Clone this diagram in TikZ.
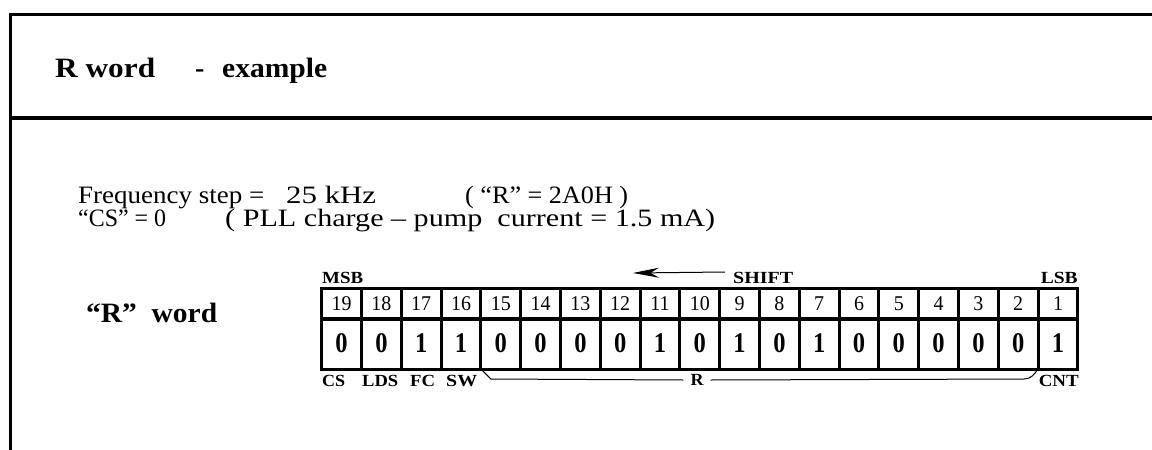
\documentclass[tikz,border=0pt]{standalone}
\usepackage{fontspec}
\setmainfont{Liberation Serif}
\usetikzlibrary{arrows.meta,calc}
% set a text to a given width, keeping its height
\newcommand{\fitw}[2]{\resizebox{#1}{\height}{#2}}

\begin{document}
\begin{tikzpicture}[x=1pt,y=-1pt,
  bitnum/.style={draw, line width=3pt, minimum width=39.8pt, minimum height=31pt,
    inner sep=0pt, outer sep=0pt, font=\fontsize{21}{21}\selectfont},
  bitval/.style={draw, line width=3pt, minimum width=39.8pt, minimum height=51pt,
    inner sep=0pt, outer sep=0pt, font=\fontsize{28.5}{28.5}\selectfont\bfseries},
  lbl/.style={inner sep=0pt, font=\fontsize{17}{17}\selectfont\bfseries},
  body/.style={inner sep=0pt, anchor=base west, font=\fontsize{25}{25}\selectfont},
  head/.style={inner sep=0pt, anchor=base west, font=\fontsize{28}{28}\selectfont\bfseries},
  thinline/.style={line width=1pt},
]
\useasboundingbox (0,0) rectangle (1152,450);
\clip (0,0) rectangle (1152,450);

% frame of the section
\draw[line width=3pt] (1160,14) -- (10,14) -- (10,460);
\draw[line width=4pt] (10,118) -- (1160,118);

% heading
\node[head] (h1) at (55,77) {\fitw{100pt}{R word}};
\node[head] (h2) at (195,77) {-};
\node[head] (h3) at (222,77) {\fitw{105pt}{example}};

% description
\node[body] (f1) at (78,203) {\fitw{186pt}{Frequency step =}};
\node[body] (f2) at (286,203) {\fitw{90pt}{25 kHz}};
\node[body] (f3) at (465,203) {\fitw{163pt}{( “R” = 2A0H )}};
\node[body] (c1) at (78,226) {\fitw{88pt}{“CS” = 0}};
\node[body] (c2) at (225,226) {\fitw{490pt}{( PLL charge – pump\ \ current = 1.5 mA)}};

\node[head] (rw) at (86,322) {\fitw{131pt}{“R”\ \ word}};

% register bits 19 .. 1
\foreach \v [count=\c from 0] in {0,0,1,1,0,0,0,0,1,0,1,0,1,0,0,0,0,0,1} {
  \pgfmathtruncatemacro\bit{19-\c}
  \node[bitnum] (n\bit) at ({321.7+39.8*(\c+0.5)},303.5) {\scalebox{0.95}[1]{\bit}};
  \node[bitval] (b\bit) at ({321.7+39.8*(\c+0.5)},343.5) {\scalebox{0.86}[1]{\v}};
}

% labels above
\node[lbl, anchor=base west] (msb) at (322,283) {\fitw{41pt}{MSB}};
\node[lbl, anchor=base east] (lsb) at (1078,283) {\fitw{37pt}{LSB}};
\node[lbl, anchor=base west] (shift) at (733,283) {\fitw{60pt}{SHIFT}};
\coordinate (sa) at (725,272);
\coordinate (sb) at (633,273);
\draw[thinline, -{Stealth[length=26pt,width=10pt]}] (sa) -- (sb);

% labels below
\node[lbl, anchor=base west] (cs) at (322,386) {\fitw{23pt}{CS}};
\node[lbl, anchor=base west] (lds) at (362,386) {\fitw{36pt}{LDS}};
\node[lbl, anchor=base west] (fc) at (410,386) {\fitw{25pt}{FC}};
\node[lbl, anchor=base west] (sw) at (446,386) {\fitw{31pt}{SW}};
\node[lbl, anchor=base east] (cnt) at (1079,386) {\fitw{40pt}{CNT}};
\node[lbl, inner xsep=7pt] (rl) at (697,380) {\fitw{13pt}{R}};

% brace spanning the R field
\draw[thinline] (b15.south west) -- ++(10,10) -- (rl.west);
\draw[thinline] (rl.east) -- ($(b2.south east)+(-14,10)$) to[out=0,in=-125] (b2.south east);
\end{tikzpicture}
\end{document}
